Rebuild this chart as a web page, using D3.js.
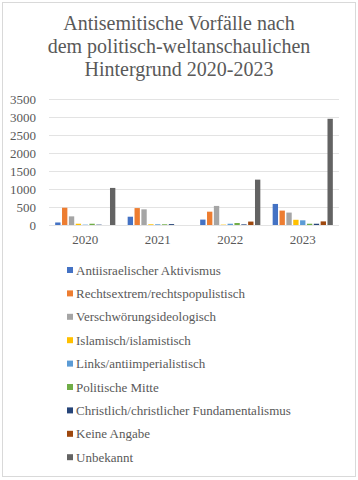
<!DOCTYPE html>
<html>
<head>
<meta charset="utf-8">
<script src="https://cdn.jsdelivr.net/npm/d3@7"></script>
<style>
  body { margin: 0; background: #fff; }
  text { font-family: "Liberation Serif", "Times New Roman", serif; fill: #595959; }
</style>
</head>
<body>
<div id="chart"></div>
<script>
// data
const years = ["2020", "2021", "2022", "2023"]
const seriesNames = [
    "Antiisraelischer Aktivismus",
    "Rechtsextrem/rechtspopulistisch",
    "Verschwörungsideologisch",
    "Islamisch/islamistisch",
    "Links/antiimperialistisch",
    "Politische Mitte",
    "Christlich/christlicher Fundamentalismus",
    "Keine Angabe",
    "Unbekannt"
]
const seriesColors = ["#4472C4", "#ED7D31", "#A5A5A5", "#FFC000", "#5B9BD5", "#70AD47", "#264478", "#9E480E", "#636363"]
// one row per series, one value per year
const values = [
    [70, 230, 150, 585],
    [480, 470, 370, 400],
    [240, 435, 530, 345],
    [35, 20, 10, 145],
    [10, 20, 35, 130],
    [35, 20, 55, 35],
    [10, 25, 18, 35],
    [0, 0, 95, 100],
    [1030, 0, 1260, 2950]
]
const yTicks = [0, 500, 1000, 1500, 2000, 2500, 3000, 3500]
const titleLines = ["Antisemitische Vorfälle nach", "dem politisch-weltanschaulichen", "Hintergrund 2020-2023"]

const width = 358
const height = 480
const plot = {left: 49, right: 339, top: 99, bottom: 225}

const svg = d3.select("#chart").append("svg")
    .attr("width", width)
    .attr("height", height)

// outer frame
svg.append("rect")
    .attr("x", 2.5).attr("y", 2.5)
    .attr("width", 353).attr("height", 474)
    .attr("fill", "white")
    .attr("stroke", "#d9d9d9")
    .attr("stroke-width", 1)

// title
svg.selectAll("text.title")
    .data(titleLines)
    .join("text")
    .attr("class", "title")
    .attr("x", 179)
    .attr("y", (d, i) => 30 + i * 23)
    .attr("text-anchor", "middle")
    .style("font-size", "20px")
    .text(d => d)

const x0 = d3.scaleBand().domain(years).range([plot.left, plot.right])
const x1 = d3.scaleBand().domain(d3.range(seriesNames.length))
    .range([0, x0.bandwidth()]).paddingInner(0.22).paddingOuter(0.9)
const y = d3.scaleLinear().domain([0, 3500]).range([plot.bottom, plot.top])

// gridlines
svg.append("g")
    .selectAll("line")
    .data(yTicks)
    .join("line")
    .attr("x1", plot.left).attr("x2", plot.right)
    .attr("y1", d => y(d) + 0.5).attr("y2", d => y(d) + 0.5)
    .attr("stroke", "#e3e3e3")
    .attr("stroke-width", 1.2)

// y axis labels
const yAxis = svg.append("g")
    .attr("transform", `translate(${plot.left - 4},0)`)
    .call(d3.axisLeft(y).tickValues(yTicks).tickFormat(d3.format("d")).tickSize(0).tickPadding(9))
yAxis.select(".domain").remove()
yAxis.selectAll("text")
    .attr("dy", "0.35em")
    .style("font-size", "13px")
    .style("font-family", "Liberation Serif, serif")
    .attr("fill", "#595959")

// bars
const groups = svg.append("g")
    .selectAll("g")
    .data(years)
    .join("g")
    .attr("transform", d => `translate(${x0(d)},0)`)

groups.selectAll("rect")
    .data((yr, yi) => seriesNames.map((s, si) => ({si, v: values[si][yi]})))
    .join("rect")
    .attr("x", d => x1(d.si))
    .attr("width", x1.bandwidth())
    .attr("y", d => y(d.v))
    .attr("height", d => y(0) - y(d.v))
    .attr("fill", d => seriesColors[d.si])

// x axis labels
const xAxis = svg.append("g")
    .attr("transform", `translate(0,${plot.bottom})`)
    .call(d3.axisBottom(x0).tickSize(0).tickPadding(10))
xAxis.select(".domain").remove()
xAxis.selectAll("text")
    .style("font-size", "13px")
    .style("font-family", "Liberation Serif, serif")
    .attr("fill", "#595959")

// legend
const legend = svg.append("g")
    .selectAll("g")
    .data(seriesNames)
    .join("g")
    .attr("transform", (d, i) => `translate(67,${270 + i * 23.4})`)

legend.append("rect")
    .attr("x", 0).attr("y", -3)
    .attr("width", 6).attr("height", 6)
    .attr("fill", (d, i) => seriesColors[i])

legend.append("text")
    .attr("x", 9)
    .attr("dy", "0.35em")
    .style("font-size", "13px")
    .text(d => d)
</script>
</body>
</html>
